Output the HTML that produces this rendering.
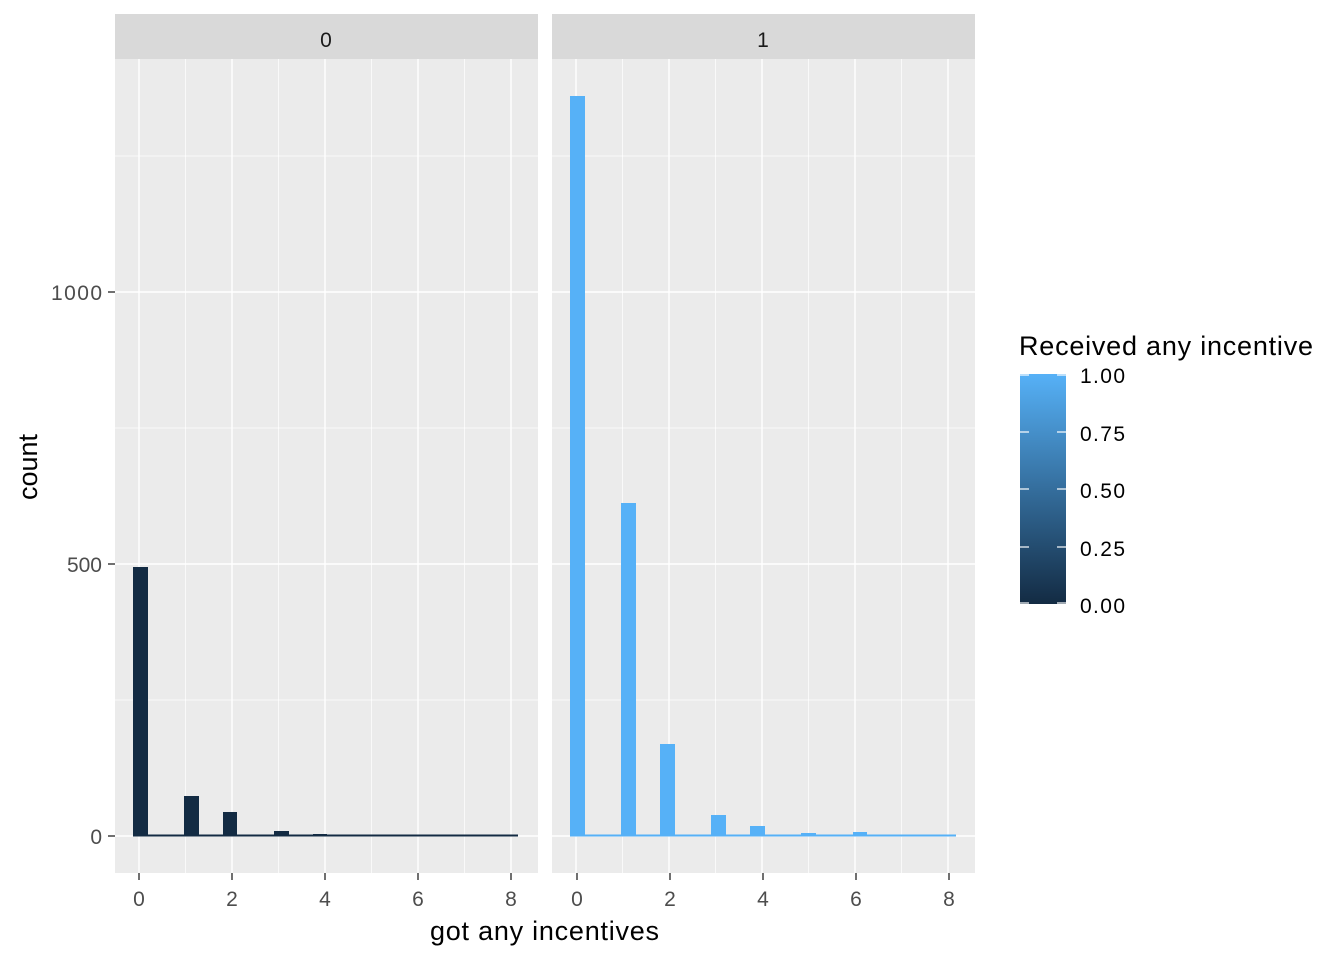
<!DOCTYPE html>
<html><head><style>body{margin:0;background:#fff}</style></head><body>
<svg width="1344" height="960" xmlns="http://www.w3.org/2000/svg" font-family="Liberation Sans, sans-serif">
<defs>
<linearGradient id="g" x1="0" y1="1" x2="0" y2="0"><stop offset="0" stop-color="#132B43"/><stop offset="1" stop-color="#56B1F7"/></linearGradient>
</defs>
<g id="p">
<rect x="115" y="59" width="423" height="814" fill="#EBEBEB"/>
<rect x="115" y="14" width="423" height="45" fill="#D9D9D9"/>
<g stroke="#fff" stroke-width="0.7">
<line x1="115" x2="538" y1="700" y2="700"/><line x1="115" x2="538" y1="428" y2="428"/><line x1="115" x2="538" y1="156" y2="156"/>
<line x1="185.5" x2="185.5" y1="59" y2="873"/><line x1="278.5" x2="278.5" y1="59" y2="873"/><line x1="371.5" x2="371.5" y1="59" y2="873"/><line x1="464.5" x2="464.5" y1="59" y2="873"/>
</g>
<g stroke="#fff" stroke-width="1.4">
<line x1="115" x2="538" y1="836" y2="836"/><line x1="115" x2="538" y1="564" y2="564"/><line x1="115" x2="538" y1="292" y2="292"/>
<line x1="139" x2="139" y1="59" y2="873"/><line x1="232" x2="232" y1="59" y2="873"/><line x1="325" x2="325" y1="59" y2="873"/><line x1="418" x2="418" y1="59" y2="873"/><line x1="511" x2="511" y1="59" y2="873"/>
</g>
</g>
<use href="#p" x="437"/>
<g fill="#132B43">
<rect x="133" y="834.5" width="385" height="2"/>
<rect x="133" y="567" width="15" height="269"/>
<rect x="184" y="796" width="15" height="40"/>
<rect x="223" y="812" width="14" height="24"/>
<rect x="274" y="831" width="15" height="5"/>
<rect x="313" y="834" width="14" height="2"/>
</g>
<g fill="#56B1F7">
<rect x="570" y="834.5" width="386" height="2"/>
<rect x="570" y="96" width="15" height="740"/>
<rect x="621" y="503" width="15" height="333"/>
<rect x="660" y="744" width="15" height="92"/>
<rect x="711" y="815" width="15" height="21"/>
<rect x="750" y="826" width="15" height="10"/>
<rect x="801" y="833" width="15" height="3"/>
<rect x="853" y="832" width="14" height="4"/>
</g>
<g font-size="21" fill="#1A1A1A" text-anchor="middle">
<text x="326" y="47">0</text><text x="763" y="47">1</text>
</g>
<g stroke="#333" stroke-width="1.4">
<line x1="108" x2="115" y1="836" y2="836"/><line x1="108" x2="115" y1="564" y2="564"/><line x1="108" x2="115" y1="292" y2="292"/>
<line x1="139" x2="139" y1="873" y2="880"/><line x1="232" x2="232" y1="873" y2="880"/><line x1="325" x2="325" y1="873" y2="880"/><line x1="418" x2="418" y1="873" y2="880"/><line x1="511" x2="511" y1="873" y2="880"/>
<line x1="577" x2="577" y1="873" y2="880"/><line x1="670" x2="670" y1="873" y2="880"/><line x1="763" x2="763" y1="873" y2="880"/><line x1="856" x2="856" y1="873" y2="880"/><line x1="949" x2="949" y1="873" y2="880"/>
</g>
<g font-size="21" fill="#4D4D4D" text-anchor="end">
<text x="102" y="844">0</text><text x="102" y="572">500</text><text x="102" y="300" textLength="51">1000</text>
</g>
<g font-size="21" fill="#4D4D4D" text-anchor="middle">
<text x="139" y="906">0</text><text x="232" y="906">2</text><text x="325" y="906">4</text><text x="418" y="906">6</text><text x="511" y="906">8</text>
<text x="577" y="906">0</text><text x="670" y="906">2</text><text x="763" y="906">4</text><text x="856" y="906">6</text><text x="949" y="906">8</text>
</g>
<text x="430" y="940" font-size="27" textLength="229" fill="#000">got any incentives</text>
<text transform="translate(37,467) rotate(-90)" font-size="27" text-anchor="middle" fill="#000">count</text>
<text x="1019" y="355" font-size="27" textLength="294" fill="#000">Received any incentive</text>
<rect x="1020" y="374" width="46" height="230" fill="url(#g)"/>
<g stroke="#fff" stroke-width="1.2">
<line x1="1020" x2="1029" y1="432" y2="432"/><line x1="1057" x2="1066" y1="432" y2="432"/>
<line x1="1020" x2="1029" y1="489" y2="489"/><line x1="1057" x2="1066" y1="489" y2="489"/>
<line x1="1020" x2="1029" y1="547" y2="547"/><line x1="1057" x2="1066" y1="547" y2="547"/>
<line x1="1020" x2="1029" y1="603" y2="603"/><line x1="1057" x2="1066" y1="603" y2="603"/>
<line x1="1020" x2="1029" y1="375" y2="375"/><line x1="1057" x2="1066" y1="375" y2="375"/>
</g>
<g font-size="21" fill="#000">
<text x="1080" y="383" textLength="45">1.00</text><text x="1080" y="441" textLength="45">0.75</text><text x="1080" y="498" textLength="45">0.50</text><text x="1080" y="556" textLength="45">0.25</text><text x="1080" y="613" textLength="45">0.00</text>
</g>
</svg>
</body></html>
